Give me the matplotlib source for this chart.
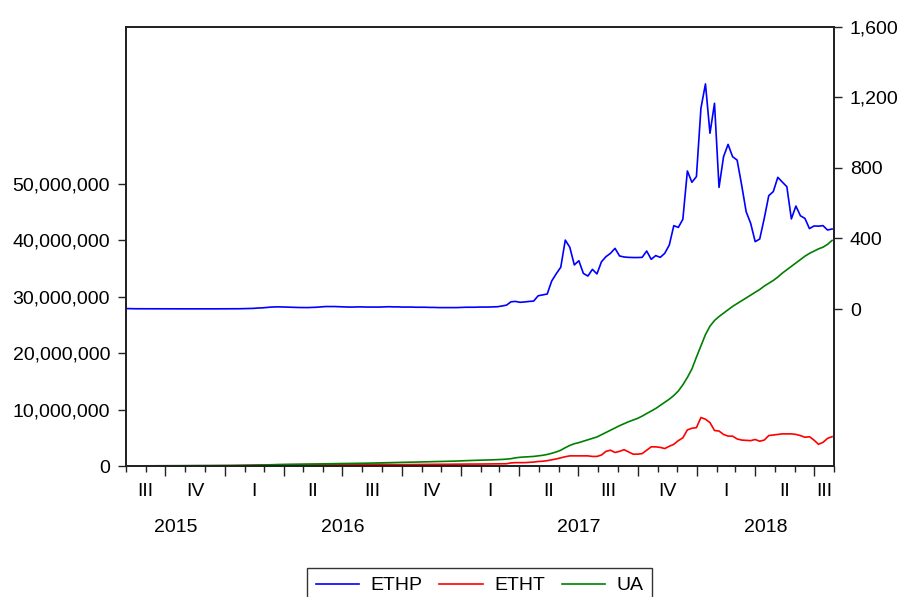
import numpy as np
import pandas as pd
import matplotlib
matplotlib.use('Agg')
import matplotlib.pyplot as plt
import matplotlib.dates as mdates
from matplotlib.ticker import FixedLocator, FuncFormatter

plt.rcParams['font.family'] = ['Liberation Sans', 'DejaVu Sans']
plt.rcParams['font.size'] = 14

# weekly observations, Aug 2015 - Jul 2018
dates = pd.date_range('2015-08-02', periods=157, freq='W-SUN')

# ETH price (right axis)
ethp = [
    2.5, 1.8, 1.4, 1.3, 1.2, 1.3, 1.2, 1.0, 0.9, 0.8, 0.7, 0.6, 0.6, 0.9, 1.0, 0.9, 0.9, 0.9, 0.9, 0.9, 0.9, 0.9,
    0.95, 1.0, 1.1, 1.5, 2.2, 2.5, 3.5, 5.5, 6.5, 9, 11, 12, 12, 11, 10, 9, 8.5, 8, 8, 9, 10, 12, 14, 14, 14, 13,
    12, 11, 11, 12, 12, 11, 11, 11, 11, 12, 13, 12, 12, 11, 11, 11, 10, 10, 10, 9, 9, 8, 8, 8, 8, 8,
    9, 10, 10, 10, 11, 11, 11, 12, 13, 17,
    22, 41, 43, 38, 40, 43, 45, 75, 80, 85, 159, 200, 237, 391, 350, 250, 274, 202, 187, 225,
    199, 268, 297, 316, 344, 301, 295, 293, 292, 292, 293, 329, 282, 303, 293, 316, 363, 473, 463, 509,
    783, 719, 751, 1139, 1277, 997, 1167, 690, 864, 934, 864, 845, 704, 552, 486, 382, 397, 514, 643, 666,
    747, 720, 694, 511, 584, 529, 514, 456, 471, 470, 473, 448, 454,
]

# weekly transactions, millions (left axis)
etht = [
    0.02, 0.03, 0.03, 0.03, 0.03, 0.03, 0.03, 0.03, 0.03, 0.03, 0.03, 0.03, 0.03, 0.03, 0.04, 0.04, 0.04, 0.04, 0.04, 0.05, 0.05, 0.05,
    0.06, 0.06, 0.07, 0.08, 0.09, 0.11, 0.13, 0.15, 0.17, 0.19, 0.21, 0.22, 0.23, 0.23, 0.24, 0.24, 0.25, 0.26, 0.27, 0.28, 0.30, 0.31, 0.33, 0.33, 0.32, 0.31,
    0.30, 0.30, 0.31, 0.30, 0.30, 0.29, 0.30, 0.30, 0.31, 0.30, 0.28, 0.26, 0.25, 0.25, 0.26, 0.26, 0.27, 0.28, 0.28, 0.29, 0.30, 0.30, 0.30, 0.31, 0.32, 0.33,
    0.33, 0.34, 0.34, 0.34, 0.35, 0.36, 0.36, 0.37, 0.38, 0.39,
    0.40, 0.55, 0.60, 0.60, 0.60, 0.65, 0.70, 0.80, 0.85, 0.95, 1.10, 1.25, 1.45, 1.65, 1.80, 1.80, 1.80, 1.80, 1.80, 1.70,
    1.70, 1.95, 2.60, 2.80, 2.40, 2.60, 2.90, 2.50, 2.10, 2.10, 2.20, 2.80, 3.40, 3.40, 3.30, 3.10, 3.50, 3.85, 4.50, 5.00,
    6.40, 6.70, 6.80, 8.60, 8.30, 7.70, 6.30, 6.20, 5.60, 5.30, 5.30, 4.80, 4.60, 4.55, 4.50, 4.70, 4.40, 4.60, 5.40, 5.50,
    5.60, 5.70, 5.70, 5.70, 5.60, 5.40, 5.10, 5.20, 4.60, 3.85, 4.20, 4.90, 5.20,
]

# unique addresses, millions (left axis)
ua = [
    0.01, 0.02, 0.02, 0.03, 0.03, 0.04, 0.04, 0.05, 0.05, 0.05, 0.06, 0.06, 0.06, 0.07, 0.07, 0.08, 0.08, 0.08, 0.09, 0.09, 0.10, 0.10,
    0.10, 0.11, 0.11, 0.12, 0.13, 0.14, 0.15, 0.17, 0.19, 0.21, 0.23, 0.25, 0.27, 0.28, 0.29, 0.30, 0.31, 0.32, 0.33, 0.35, 0.36, 0.37, 0.39, 0.40, 0.42, 0.43,
    0.44, 0.45, 0.47, 0.48, 0.49, 0.50, 0.52, 0.54, 0.56, 0.57, 0.59, 0.61, 0.63, 0.65, 0.67, 0.68, 0.70, 0.72, 0.74, 0.75, 0.77, 0.79, 0.81, 0.83, 0.85, 0.88,
    0.92, 0.95, 0.98, 1.00, 1.03, 1.05, 1.08, 1.10, 1.13, 1.17,
    1.22, 1.30, 1.45, 1.55, 1.60, 1.65, 1.70, 1.80, 1.90, 2.05, 2.25, 2.50, 2.80, 3.25, 3.65, 3.95, 4.15, 4.40, 4.65, 4.90,
    5.15, 5.55, 5.95, 6.35, 6.75, 7.15, 7.50, 7.85, 8.15, 8.45, 8.85, 9.30, 9.75, 10.2, 10.75, 11.3, 11.85, 12.5, 13.3, 14.4,
    15.7, 17.2, 19.3, 21.3, 23.3, 24.8, 25.8, 26.5, 27.1, 27.7, 28.3, 28.8, 29.3, 29.8, 30.3, 30.8, 31.3, 31.9, 32.4, 32.9,
    33.5, 34.2, 34.8, 35.4, 36.0, 36.6, 37.2, 37.7, 38.1, 38.5, 38.8, 39.3, 40.0,
]

quarter_names = ['I', 'II', 'III', 'IV']
left_ticks = [0, 10e6, 20e6, 30e6, 40e6, 50e6]
right_ticks = [0, 400, 800, 1200, 1600]

x_start = pd.Timestamp('2015-08-01')
x_end = pd.Timestamp('2018-08-01')

fig = plt.figure(figsize=(8.99, 5.97), dpi=100)
ax = fig.add_axes([0.1402, 0.2194, 0.7875, 0.7354])
ax2 = ax.twinx()

blue, red, green = '#0000ff', '#ff0000', '#008000'
l1, = ax2.plot(dates, ethp, color=blue, lw=1.2, label='ETHP')
l2, = ax.plot(dates, np.array(etht) * 1e6, color=red, lw=1.2, label='ETHT')
l3, = ax.plot(dates, np.array(ua) * 1e6, color=green, lw=1.2, label='UA')

ax.set_xlim(x_start, x_end)
ax.set_ylim(0, 77.84e6)
ax2.set_ylim(-890.8, 1600)

ax.yaxis.set_major_locator(FixedLocator(left_ticks))
ax.yaxis.set_major_formatter(FuncFormatter(lambda v, p: f'{v:,.0f}'))
ax2.yaxis.set_major_locator(FixedLocator(right_ticks))
ax2.yaxis.set_major_formatter(FuncFormatter(lambda v, p: f'{v:,.0f}'))

ax.xaxis.set_major_locator(mdates.MonthLocator(bymonth=[1, 4, 7, 10]))
ax.xaxis.set_minor_locator(mdates.MonthLocator())
ax.xaxis.set_major_formatter(FuncFormatter(lambda v, p: ''))

for a in (ax, ax2):
    for s in a.spines.values():
        s.set_linewidth(1.3)
        s.set_color('#222222')
    a.tick_params(axis='y', direction='out', length=5.5, width=1.0, pad=6, labelsize=14, colors='#222222',
                  labelcolor='black')
ax.tick_params(axis='x', which='major', direction='out', length=7, width=1.0, color='#222222')
ax.tick_params(axis='x', which='minor', direction='out', length=4, width=1.0, color='#222222')

# quarter and year labels under the axis
xt = ax.get_xaxis_transform()
for q in pd.period_range('2015Q3', '2018Q3', freq='Q'):
    lo = max(q.start_time, x_start)
    hi = min(q.end_time, x_end)
    mid = lo + (hi - lo) / 2
    ax.text(mid, -0.057, quarter_names[q.quarter - 1], transform=xt, ha='center', va='center', fontsize=14)
for y in [2015, 2016, 2017, 2018]:
    lo = max(pd.Timestamp(f'{y}-01-01'), x_start)
    hi = min(pd.Timestamp(f'{y + 1}-01-01'), x_end)
    mid = lo + (hi - lo) / 2
    ax.text(mid, -0.141, str(y), transform=xt, ha='center', va='center', fontsize=14)

leg = fig.legend(handles=[l1, l2, l3], loc='upper center', bbox_to_anchor=(0.5334, 1 - 568 / 597),
                 ncol=3, frameon=True, fancybox=False, fontsize=14, handlelength=2.25,
                 handletextpad=0.56, columnspacing=0.87, borderpad=0.45, borderaxespad=0)
leg.get_frame().set_edgecolor('black')
leg.get_frame().set_linewidth(1.0)

fig.savefig('out.png', dpi=100)
